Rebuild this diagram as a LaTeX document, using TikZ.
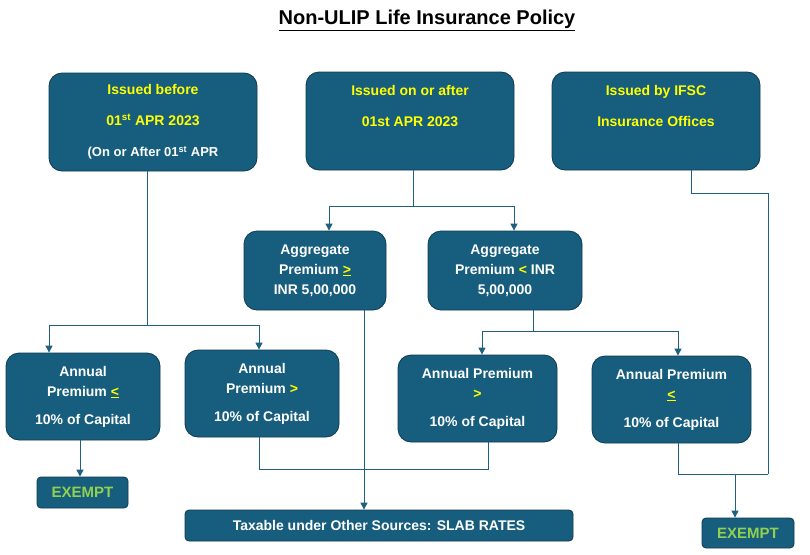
\documentclass[tikz,border=0pt]{standalone}
\usepackage{fontspec}
\setmainfont{Liberation Sans}
\usetikzlibrary{arrows.meta}
\definecolor{boxfill}{HTML}{175E7E}
\definecolor{boxline}{HTML}{0E3A4F}
\definecolor{conn}{HTML}{1F5F7F}
\definecolor{ylw}{HTML}{FFFF00}
\definecolor{grn}{HTML}{92D050}
\tikzset{
  box/.style={draw=boxline, line width=0.8pt, fill=boxfill, rounded corners=13pt, inner sep=0pt, align=center, text=white, font=\bfseries\fontsize{14}{20}\selectfont},
  conline/.style={draw=conn, line width=1pt},
  arr/.style={conline, -{Triangle[length=7pt,width=7pt]}}
}
\begin{document}
\begin{tikzpicture}[x=1pt,y=-1pt]
\useasboundingbox[fill=white] (0,0) rectangle (810,554);
\node (title) at (427,20) {\bfseries\fontsize{20}{24}\selectfont\underline{Non-ULIP Life Insurance Policy}};
\node[box, minimum width=208, minimum height=98, font=\bfseries\fontsize{14}{31}\selectfont] (A) at (153,122)
 {\textcolor{ylw}{Issued before}\\\textcolor{ylw}{01\textsuperscript{st} APR 2023}\\{\fontsize{13}{31}\selectfont(On or After 01\textsuperscript{st} APR}};
\node[box, minimum width=208, minimum height=98, font=\bfseries\fontsize{14}{31}\selectfont] (B) at (410,121)
 {\textcolor{ylw}{Issued on or after}\\\textcolor{ylw}{01st APR 2023}\\\mbox{}};
\node[box, minimum width=208, minimum height=98, font=\bfseries\fontsize{14}{31}\selectfont] (C) at (656,121)
 {\textcolor{ylw}{Issued by IFSC}\\\textcolor{ylw}{Insurance Offices}\\\mbox{}};
\node[box, minimum width=142, minimum height=79] (D) at (315,270.5)
 {Aggregate\\Premium \textcolor{ylw}{\underline{>}}\\INR 5,00,000};
\node[box, minimum width=154, minimum height=79] (E) at (505,270.5)
 {Aggregate\\Premium \textcolor{ylw}{<} INR\\5,00,000};
\node[box, minimum width=154, minimum height=87] (F) at (83,396.5)
 {Annual\\Premium \textcolor{ylw}{\underline{<}}\\[8pt]10\% of Capital};
\node[box, minimum width=154, minimum height=87] (G) at (262,393.5)
 {Annual\\Premium \textcolor{ylw}{>}\\[8pt]10\% of Capital};
\node[box, minimum width=159, minimum height=87] (H) at (477.5,398.5)
 {Annual Premium\\\textcolor{ylw}{>}\\[8pt]10\% of Capital};
\node[box, minimum width=159, minimum height=87] (I) at (671.5,399.5)
 {Annual Premium\\\textcolor{ylw}{\underline{<}}\\[8pt]10\% of Capital};
\node[box, rounded corners=4pt, minimum width=91, minimum height=31, text=grn, font=\bfseries\fontsize{15}{18}\selectfont] (J) at (82.5,492.5) {EXEMPT};
\node[box, rounded corners=4pt, minimum width=388, minimum height=31] (K) at (379,525.5) {Taxable under Other Sources: SLAB RATES};
\node[box, rounded corners=4pt, minimum width=92, minimum height=30, text=grn, font=\bfseries\fontsize{15}{18}\selectfont] (L) at (748,533) {EXEMPT};
\coordinate (a1) at (147,325);
\draw[conline] (A.south -| a1) -- (a1);
\draw[arr] (a1) -| (F.north -| 49,0);
\draw[arr] (a1) -| (G.north -| 259,0);
\coordinate (b1) at (413,206);
\draw[conline] (B.south -| b1) -- (b1);
\draw[arr] (b1) -| (D.north -| 329,0);
\draw[arr] (b1) -| (E.north -| 514,0);
\coordinate (e1) at (533,331);
\draw[conline] (E.south -| e1) -- (e1);
\draw[arr] (e1) -| (H.north -| 482,0);
\draw[arr] (e1) -| (I.north -| 678,0);
\draw[arr] (F.south -| 80,0) -- (J.north -| 80,0);
\draw[arr] (D.south -| 364,0) -- (K.north -| 364,0);
\draw[conline] (G.south -| 259,0) |- (488,469) -- (H.south -| 488,0);
\coordinate (c1) at (768,474);
\draw[conline] (C.south -| 691,0) |- (768,193) -- (c1);
\draw[conline] (I.south -| 678,0) |- (c1);
\draw[arr] (735,474) -- (L.north -| 735,0);
\end{tikzpicture}
\end{document}
